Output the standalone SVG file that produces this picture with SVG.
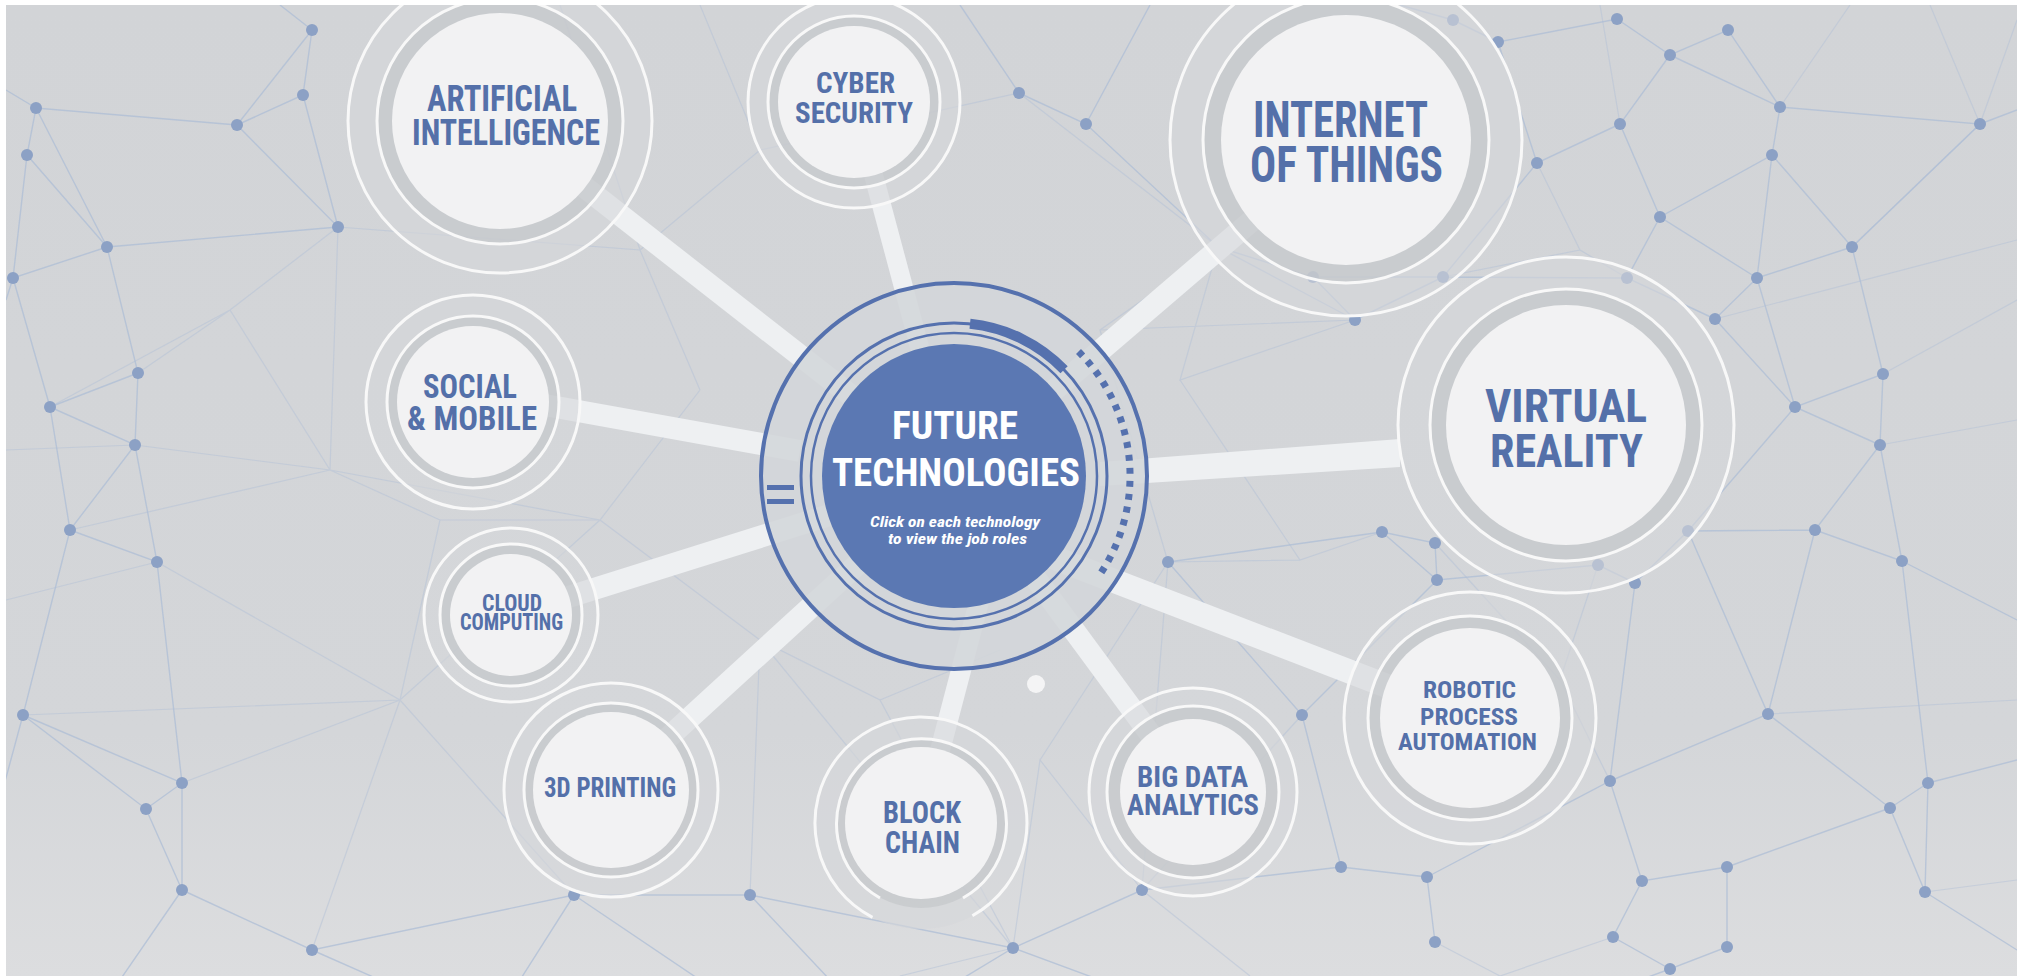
<svg xmlns="http://www.w3.org/2000/svg" width="2023" height="980" viewBox="0 0 2023 980">
<defs>
<linearGradient id="bgg" x1="0" y1="0" x2="0" y2="1">
<stop offset="0" stop-color="#d2d4d7"/>
<stop offset="0.75" stop-color="#d4d6d9"/>
<stop offset="1" stop-color="#dcdddf"/>
</linearGradient>
<clipPath id="frame"><rect x="6" y="5" width="2011" height="971"/></clipPath>
<style>
.net{fill:none;stroke:#aebdd6;stroke-width:1.4;stroke-opacity:.75}
.netf{fill:none;stroke:#b4c2d8;stroke-width:1.2;stroke-opacity:.5}
.dot{fill:#8ca1c5}
.bar{stroke:#eef0f2;stroke-width:22;stroke-linecap:butt;fill:none}
.ro{fill:#d5d7da;fill-opacity:.6;stroke:#f8f8f8;stroke-width:3}
.rm{fill:#c3c6ca;fill-opacity:.65;stroke:#f8f8f8;stroke-width:3}
.rf{fill:#f2f2f3}
.arc{fill:none;stroke:#f8f8f8;stroke-width:3}
.lbl{font-family:"Liberation Sans Narrow","Roboto Condensed","DejaVu Sans Condensed","Liberation Sans",sans-serif;font-weight:700;fill:#5470a9}
.blue{fill:none;stroke:#5571ae}
.ctext{font-family:"Liberation Sans Narrow","Roboto Condensed","Liberation Sans",sans-serif;font-weight:700;fill:#ffffff}
</style>
</defs>
<rect x="0" y="0" width="2023" height="980" fill="#ffffff"/>
<g clip-path="url(#frame)">
<rect x="6" y="5" width="2011" height="971" fill="url(#bgg)"/>
<g id="network">
<path class="netf" d="M338 227 L640 250 L700 390 M640 250 L760 150 L1019 93 M700 390 L600 520 L400 700 L182 783 M600 520 L760 640 L750 895 M760 640 L1013 948 M1168 562 L1100 330 L1218 247 M1100 330 L1355 320 M157 562 L400 700 L574 895 M135 445 L330 470 L600 520 M330 470 L338 227 M1302 715 L1142 890 M6 600 L157 562 M6 450 L135 445 M70 530 L330 470 M23 715 L400 700 M312 950 L400 700 M2017 300 L1883 374 M2017 420 L1880 445 M1715 319 L2017 240 M1980 124 L2017 20 M1852 247 L1980 124 M1600 5 L1620 124 M1780 107 L1850 5 M1980 124 L1930 5 M1768 714 L2017 700 M1925 892 L2017 880 M1613 937 L1500 976 M1435 942 L1500 976 M1142 890 L1250 976 M1142 890 L1168 562 M900 976 L1013 948 M640 250 L560 5 M760 150 L700 5 M1019 93 L1218 247 M1100 330 L1168 562 M1218 247 L1180 380 L1355 320 M1180 380 L1300 560 L1382 532 M1300 560 L1168 562 M338 227 L230 310 L138 373 M230 310 L330 470 M400 700 L440 520 L330 470 M440 520 L600 520 M760 640 L880 700 L1013 948 M880 700 L1000 650 M1013 948 L1040 760 L1142 890 M1040 760 L1168 562 M230 310 L50 407 M1537 163 L1580 250 L1627 278 M1443 277 L1580 250 M1598 565 L1560 680 L1610 781 M1435 543 L1560 680"/>
<path class="net" d="M312 30 L303 95 L237 125 L312 30 M303 95 L338 227 L237 125 L36 108 L27 155 L107 247 L36 108 M27 155 L13 278 L107 247 L338 227 M107 247 L138 373 L50 407 L13 278 M138 373 L135 445 L50 407 L70 530 L135 445 L157 562 L70 530 L23 715 L182 783 L157 562 M23 715 L146 809 L182 783 L182 890 L146 809 M182 890 L312 950 L574 895 L750 895 L1013 948 L1142 890 L1341 867 L1427 877 L1435 942 M23 715 L0 800 M182 890 L120 980 M312 950 L380 980 M574 895 L520 980 M574 895 L700 980 M750 895 L830 980 M1013 948 L960 980 M1013 948 L1100 980 M1427 877 L1610 781 L1642 881 L1727 867 L1890 808 L1925 892 M1642 881 L1613 937 L1670 969 L1727 947 L1727 867 M1610 781 L1768 714 L1890 808 L1928 783 L1902 561 L1815 530 L1768 714 L1688 531 L1815 530 M1902 561 L1880 445 L1815 530 M1880 445 L1883 374 L1795 407 L1880 445 M1795 407 L1715 319 L1757 278 L1795 407 M1883 374 L1852 247 L1757 278 L1772 155 L1852 247 L1980 124 L1780 107 L1772 155 L1660 217 L1757 278 M1660 217 L1627 278 L1715 319 M1660 217 L1620 124 L1670 55 L1780 107 L1728 30 L1670 55 L1617 19 L1498 42 L1453 20 M1620 124 L1537 163 L1498 42 M1537 163 L1443 277 L1627 278 M1443 277 L1313 277 L1218 247 L1355 320 L1313 277 M1443 277 L1355 320 M1218 247 L1086 124 L1019 93 M1688 531 L1635 583 L1598 565 L1437 580 L1435 543 L1382 532 L1437 580 L1302 715 L1168 562 L1382 532 M1302 715 L1341 867 M1635 583 L1610 781 M1688 531 L1795 407 M1902 561 L2017 620 M1980 124 L2017 110 M1928 783 L2017 760 M1925 892 L2017 950 M1928 783 L1925 892 M1670 969 L1640 980 M1019 93 L960 5 M1086 124 L1150 5 M1453 20 L1400 5 M312 30 L280 5 M36 108 L6 90 M13 278 L6 300"/>
<g class="dot">
<circle cx="312" cy="30" r="6"/><circle cx="36" cy="108" r="6"/><circle cx="27" cy="155" r="6"/><circle cx="237" cy="125" r="6"/><circle cx="303" cy="95" r="6"/><circle cx="338" cy="227" r="6"/><circle cx="107" cy="247" r="6"/><circle cx="13" cy="278" r="6"/><circle cx="138" cy="373" r="6"/><circle cx="50" cy="407" r="6"/><circle cx="135" cy="445" r="6"/><circle cx="70" cy="530" r="6"/><circle cx="157" cy="562" r="6"/><circle cx="23" cy="715" r="6"/><circle cx="182" cy="783" r="6"/><circle cx="146" cy="809" r="6"/><circle cx="182" cy="890" r="6"/><circle cx="312" cy="950" r="6"/><circle cx="574" cy="895" r="6"/><circle cx="750" cy="895" r="6"/><circle cx="1013" cy="948" r="6"/><circle cx="1019" cy="93" r="6"/><circle cx="1086" cy="124" r="6"/>
<circle cx="1453" cy="20" r="6"/><circle cx="1498" cy="42" r="6"/><circle cx="1537" cy="163" r="6"/><circle cx="1218" cy="247" r="6"/><circle cx="1313" cy="277" r="6"/><circle cx="1443" cy="277" r="6"/><circle cx="1355" cy="320" r="6"/><circle cx="1617" cy="19" r="6"/><circle cx="1728" cy="30" r="6"/><circle cx="1670" cy="55" r="6"/><circle cx="1780" cy="107" r="6"/><circle cx="1980" cy="124" r="6"/><circle cx="1620" cy="124" r="6"/><circle cx="1772" cy="155" r="6"/><circle cx="1660" cy="217" r="6"/><circle cx="1852" cy="247" r="6"/><circle cx="1757" cy="278" r="6"/><circle cx="1627" cy="278" r="6"/><circle cx="1715" cy="319" r="6"/><circle cx="1883" cy="374" r="6"/><circle cx="1795" cy="407" r="6"/><circle cx="1880" cy="445" r="6"/><circle cx="1815" cy="530" r="6"/><circle cx="1902" cy="561" r="6"/><circle cx="1688" cy="531" r="6"/><circle cx="1768" cy="714" r="6"/><circle cx="1928" cy="783" r="6"/><circle cx="1890" cy="808" r="6"/><circle cx="1727" cy="867" r="6"/><circle cx="1925" cy="892" r="6"/><circle cx="1642" cy="881" r="6"/><circle cx="1613" cy="937" r="6"/><circle cx="1727" cy="947" r="6"/><circle cx="1670" cy="969" r="6"/><circle cx="1610" cy="781" r="6"/>
<circle cx="1382" cy="532" r="6"/><circle cx="1435" cy="543" r="6"/><circle cx="1598" cy="565" r="6"/><circle cx="1635" cy="583" r="6"/><circle cx="1437" cy="580" r="6"/><circle cx="1168" cy="562" r="6"/><circle cx="1302" cy="715" r="6"/><circle cx="1341" cy="867" r="6"/><circle cx="1427" cy="877" r="6"/><circle cx="1435" cy="942" r="6"/><circle cx="1142" cy="890" r="6"/>
</g>
</g>
<g id="connectors">
<line class="bar" x1="500" y1="121" x2="954" y2="476"/>
<line class="bar" x1="854" y1="102" x2="954" y2="476" style="stroke-width:19"/>
<line class="bar" x1="1346" y1="140" x2="954" y2="476"/>
<path d="M1100 462 L1400 439 L1400 467 L1100 486 Z" fill="#eef0f2"/>
<line class="bar" x1="473" y1="392" x2="800" y2="451"/>
<line class="bar" x1="511" y1="615" x2="954" y2="476"/>
<line class="bar" x1="611" y1="790" x2="954" y2="476"/>
<line class="bar" x1="921" y1="823" x2="990" y2="560" style="stroke-width:20"/>
<line class="bar" x1="1193" y1="792" x2="1000" y2="530"/>
<line class="bar" x1="1470" y1="718" x2="1000" y2="537" style="stroke-width:24"/>
</g>
<g id="center">
<circle cx="954" cy="476" r="193" fill="#d3d6da" fill-opacity=".88" stroke="#5571ae" stroke-width="4"/>
<circle class="blue" cx="954" cy="476" r="153" stroke-width="3"/>
<circle class="blue" cx="954" cy="476" r="143" stroke-width="2.5"/>
<circle cx="954" cy="476" r="132" fill="#5b78b3"/>
<path class="blue" d="M970 323.8 A153 153 0 0 1 1064.1 369.7" stroke-width="10"/>
<path class="blue" d="M1078.5 351.5 A176 176 0 0 1 1098.2 576.9" stroke-width="7" stroke-dasharray="6 7"/>
<rect x="767" y="485" width="27" height="5" fill="#5571ae"/>
<rect x="767" y="499" width="27" height="5" fill="#5571ae"/>
<circle cx="1036" cy="684" r="9" fill="#f4f4f5"/>
<text class="ctext" x="892" y="439" font-size="39" textLength="126" lengthAdjust="spacingAndGlyphs">FUTURE</text>
<text class="ctext" x="832" y="486" font-size="39" textLength="248" lengthAdjust="spacingAndGlyphs">TECHNOLOGIES</text>
<text class="ctext" x="870" y="527" font-size="15" font-style="italic" textLength="170" lengthAdjust="spacingAndGlyphs">Click on each technology</text>
<text class="ctext" x="888" y="544" font-size="15" font-style="italic" textLength="139" lengthAdjust="spacingAndGlyphs">to view the job roles</text>
</g>
<g id="node-ai">
<circle class="ro" cx="500" cy="121" r="152"/><circle class="rm" cx="500" cy="121" r="123"/><circle class="rf" cx="500" cy="121" r="108"/>
<text class="lbl" x="427" y="111" font-size="36" textLength="150" lengthAdjust="spacingAndGlyphs">ARTIFICIAL</text>
<text class="lbl" x="412" y="145" font-size="36" textLength="188" lengthAdjust="spacingAndGlyphs">INTELLIGENCE</text>
</g>
<g id="node-cyber">
<circle class="ro" cx="854" cy="102" r="106"/><circle class="rm" cx="854" cy="102" r="86"/><circle class="rf" cx="854" cy="102" r="76"/>
<text class="lbl" x="816" y="93" font-size="29" textLength="79" lengthAdjust="spacingAndGlyphs">CYBER</text>
<text class="lbl" x="795" y="123" font-size="29" textLength="118" lengthAdjust="spacingAndGlyphs">SECURITY</text>
</g>
<g id="node-iot">
<circle class="ro" cx="1346" cy="140" r="176"/><circle class="rm" cx="1346" cy="140" r="143"/><circle class="rf" cx="1346" cy="140" r="125"/>
<text class="lbl" x="1253" y="137" font-size="50" textLength="175" lengthAdjust="spacingAndGlyphs">INTERNET</text>
<text class="lbl" x="1250" y="182" font-size="50" textLength="193" lengthAdjust="spacingAndGlyphs">OF THINGS</text>
</g>
<g id="node-vr">
<circle class="ro" cx="1566" cy="425" r="168"/><circle class="rm" cx="1566" cy="425" r="136"/><circle class="rf" cx="1566" cy="425" r="120"/>
<text class="lbl" x="1485" y="422" font-size="46" textLength="162" lengthAdjust="spacingAndGlyphs">VIRTUAL</text>
<text class="lbl" x="1490" y="467" font-size="46" textLength="153" lengthAdjust="spacingAndGlyphs">REALITY</text>
</g>
<g id="node-social">
<circle class="ro" cx="473" cy="402" r="107"/><circle class="rm" cx="473" cy="402" r="86"/><circle class="rf" cx="473" cy="402" r="76"/>
<text class="lbl" x="423" y="398" font-size="34" textLength="94" lengthAdjust="spacingAndGlyphs">SOCIAL</text>
<text class="lbl" x="407" y="430" font-size="34" textLength="130" lengthAdjust="spacingAndGlyphs">&amp; MOBILE</text>
</g>
<g id="node-cloud">
<circle class="ro" cx="511" cy="615" r="87"/><circle class="rm" cx="511" cy="615" r="71"/><circle class="rf" cx="511" cy="615" r="61"/>
<text class="lbl" x="482" y="611" font-size="24" textLength="60" lengthAdjust="spacingAndGlyphs">CLOUD</text>
<text class="lbl" x="460" y="630" font-size="24" textLength="103" lengthAdjust="spacingAndGlyphs">COMPUTING</text>
</g>
<g id="node-3d">
<circle class="ro" cx="611" cy="790" r="107"/><circle class="rm" cx="611" cy="790" r="87"/><circle class="rf" cx="611" cy="790" r="78"/>
<text class="lbl" x="544" y="797" font-size="28" textLength="132" lengthAdjust="spacingAndGlyphs">3D PRINTING</text>
</g>
<g id="node-blockchain">
<circle cx="921" cy="823" r="106" fill="#d5d7da" fill-opacity=".6"/>
<circle cx="921" cy="823" r="85" fill="#c3c6ca" fill-opacity=".65"/>
<path class="arc" d="M872.5 917.3 A106 106 0 1 1 972.4 915.7"/>
<path class="arc" d="M880 898 A85 85 0 1 1 963 898"/>
<circle class="rf" cx="921" cy="823" r="76"/>
<text class="lbl" x="883" y="823" font-size="32" textLength="78" lengthAdjust="spacingAndGlyphs">BLOCK</text>
<text class="lbl" x="885" y="853" font-size="32" textLength="75" lengthAdjust="spacingAndGlyphs">CHAIN</text>
</g>
<g id="node-bigdata">
<circle class="ro" cx="1193" cy="792" r="104"/><circle class="rm" cx="1193" cy="792" r="86"/><circle class="rf" cx="1193" cy="792" r="73"/>
<text class="lbl" x="1137" y="787" font-size="30" textLength="111" lengthAdjust="spacingAndGlyphs">BIG DATA</text>
<text class="lbl" x="1127" y="815" font-size="30" textLength="132" lengthAdjust="spacingAndGlyphs">ANALYTICS</text>
</g>
<g id="node-rpa">
<circle class="ro" cx="1470" cy="718" r="126"/><circle class="rm" cx="1470" cy="718" r="102"/><circle class="rf" cx="1470" cy="718" r="90"/>
<text class="lbl" x="1423" y="698" font-size="24" textLength="93" lengthAdjust="spacingAndGlyphs">ROBOTIC</text>
<text class="lbl" x="1420" y="725" font-size="24" textLength="98" lengthAdjust="spacingAndGlyphs">PROCESS</text>
<text class="lbl" x="1398" y="750" font-size="24" textLength="139" lengthAdjust="spacingAndGlyphs">AUTOMATION</text>
</g>
</g>
</svg>
